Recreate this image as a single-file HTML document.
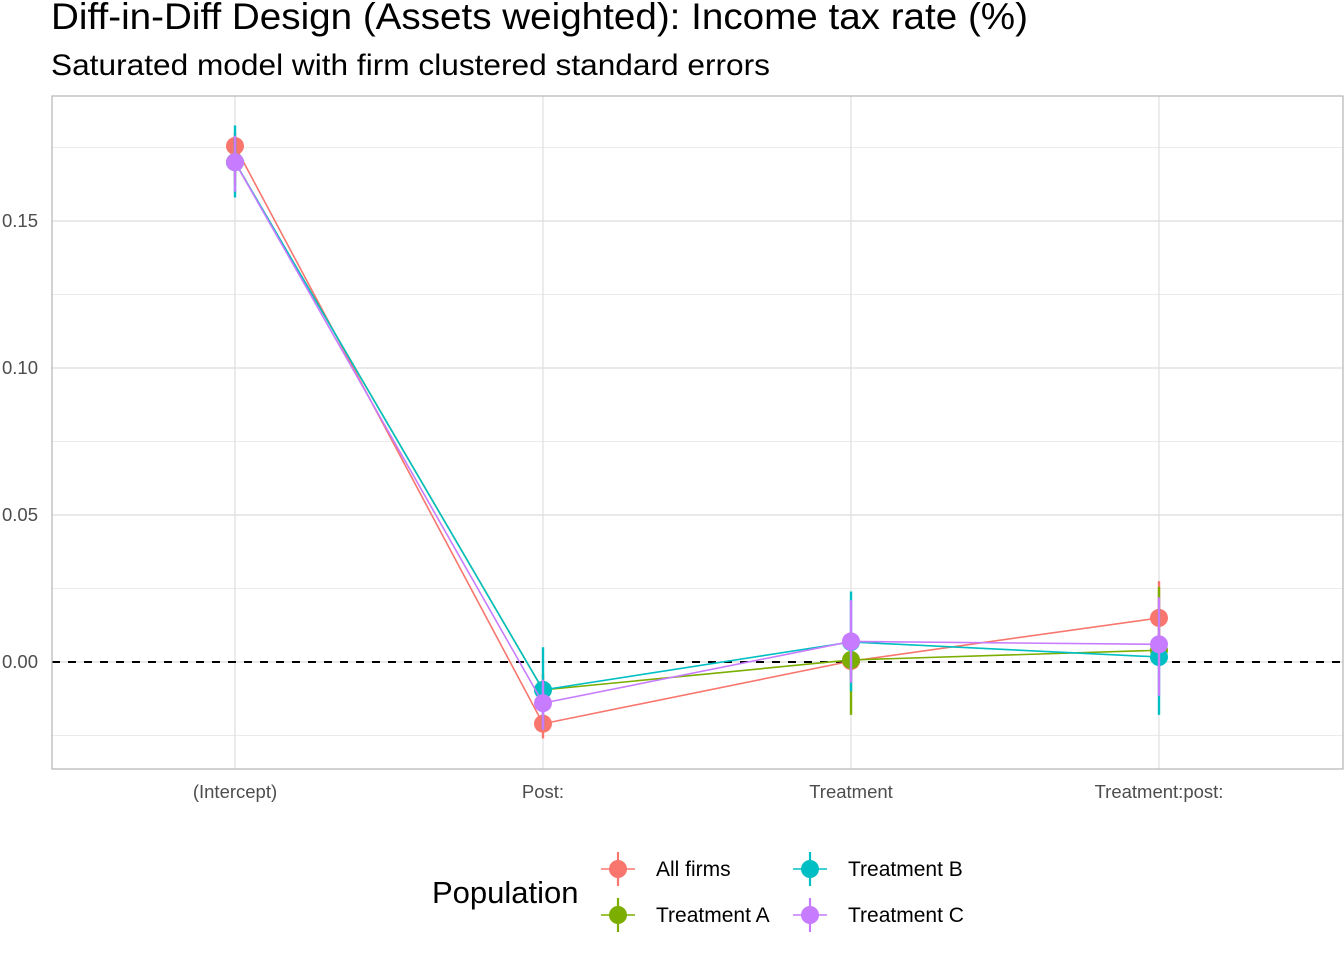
<!DOCTYPE html>
<html><head><meta charset="utf-8"><style>
body{margin:0;background:#fff;font-family:"Liberation Sans",sans-serif}
svg text{font-family:"Liberation Sans",sans-serif}
</style></head><body>
<svg width="1344" height="960">
<text x="51" y="29" font-size="37" textLength="977" lengthAdjust="spacingAndGlyphs" fill="#000">Diff-in-Diff Design (Assets weighted): Income tax rate  (%)</text>
<text x="51" y="75" font-size="30" textLength="719" lengthAdjust="spacingAndGlyphs" fill="#000">Saturated model with firm clustered standard errors</text>
<g id="grid"></g><g id="marks"></g><g id="legend"></g>
<rect x="52" y="96" width="1291" height="673" fill="none" stroke="#b3b3b3" stroke-width="1.2"/>
</svg>
<script>
const categories=["(Intercept)","Post:","Treatment","Treatment:post:"];
const seriesNames=["All firms","Treatment A","Treatment B","Treatment C"];
const colors=["#F8766D","#7CAE00","#00BFC4","#C77CFF"];
const allFirms=[0.1755,-0.021,0.0003,0.015];
const allFirmsLo=[0.165,-0.026,-0.005,0.006];
const allFirmsHi=[0.180,-0.016,0.006,0.0275];
const treatA=[0.170,-0.0095,0.0007,0.004];
const treatALo=[0.162,-0.015,-0.018,-0.002];
const treatAHi=[0.178,-0.004,0.010,0.0255];
const treatB=[0.170,-0.0095,0.0068,0.0017];
const treatBLo=[0.158,-0.023,-0.010,-0.018];
const treatBHi=[0.1825,0.005,0.024,0.008];
const treatC=[0.170,-0.014,0.007,0.006];
const treatCLo=[0.160,-0.023,-0.007,-0.0115];
const treatCHi=[0.179,-0.006,0.021,0.022];
const yTicks=[0,0.05,0.10,0.15];
const yTickLabels=["0.00","0.05","0.10","0.15"];
const yMinor=[-0.025,0.025,0.075,0.125,0.175];
const NS="http://www.w3.org/2000/svg";
function mk(t,a,p){const e=document.createElementNS(NS,t);for(const k in a)e.setAttribute(k,a[k]);p.appendChild(e);return e;}
const X=i=>235+i*308;
const Y=v=>662-v*2940;
const grid=document.getElementById('grid'),marks=document.getElementById('marks'),leg=document.getElementById('legend');
yMinor.forEach(v=>{const l=mk('line',{x1:52,x2:1343,y1:Y(v),y2:Y(v),stroke:'#ebebeb','stroke-width':1},grid);

});
yTicks.forEach((v,i)=>{const l=mk('line',{x1:52,x2:1343,y1:Y(v),y2:Y(v),stroke:'#dedede','stroke-width':1.2},grid);


const t=mk('text',{x:38,y:Y(v)+6,'font-size':18.5,fill:'#4d4d4d','text-anchor':'end'},grid);t.textContent=yTickLabels[i];

});
categories.forEach((c,i)=>{const l=mk('line',{x1:X(i),x2:X(i),y1:96,y2:769,stroke:'#dedede','stroke-width':1.2},grid);


const t=mk('text',{x:X(i),y:798,'font-size':18.5,fill:'#4d4d4d','text-anchor':'middle'},grid);t.textContent=c;

});
const zl=mk('line',{x1:52,x2:1343,y1:Y(0),y2:Y(0),stroke:'#000','stroke-width':2,'stroke-dasharray':'8,8'},grid);


const S=[[allFirms,allFirmsLo,allFirmsHi],[treatA,treatALo,treatAHi],[treatB,treatBLo,treatBHi],[treatC,treatCLo,treatCHi]];
S.forEach((s,k)=>{const g=mk('g',{},marks);


mk('polyline',{points:s[0].map((v,i)=>X(i)+','+Y(v)).join(' '),fill:'none',stroke:colors[k],'stroke-width':1.6},g);
s[0].forEach((v,i)=>{const e=mk('line',{x1:X(i),x2:X(i),y1:Y(s[1][i]),y2:Y(s[2][i]),stroke:colors[k],'stroke-width':2.4},g);


const c=mk('circle',{cx:X(i),cy:Y(v),r:9,fill:colors[k]},g);

});});
const lt=mk('text',{x:432,y:903,'font-size':31,fill:'#000'},leg);lt.textContent='Population';


const pos=[[618,869],[618,915],[810,869],[810,915]];
seriesNames.forEach((n,k)=>{const [x,y]=pos[k];const g=mk('g',{},leg);


mk('line',{x1:x-17,x2:x+17,y1:y,y2:y,stroke:colors[k],'stroke-width':1.6},g);
mk('line',{x1:x,x2:x,y1:y-17,y2:y+17,stroke:colors[k],'stroke-width':2.2},g);
mk('circle',{cx:x,cy:y,r:9,fill:colors[k]},g);
const t=mk('text',{x:x+38,y:y+7,'font-size':21,fill:'#000'},g);t.textContent=n;});
</script>
</body></html>
